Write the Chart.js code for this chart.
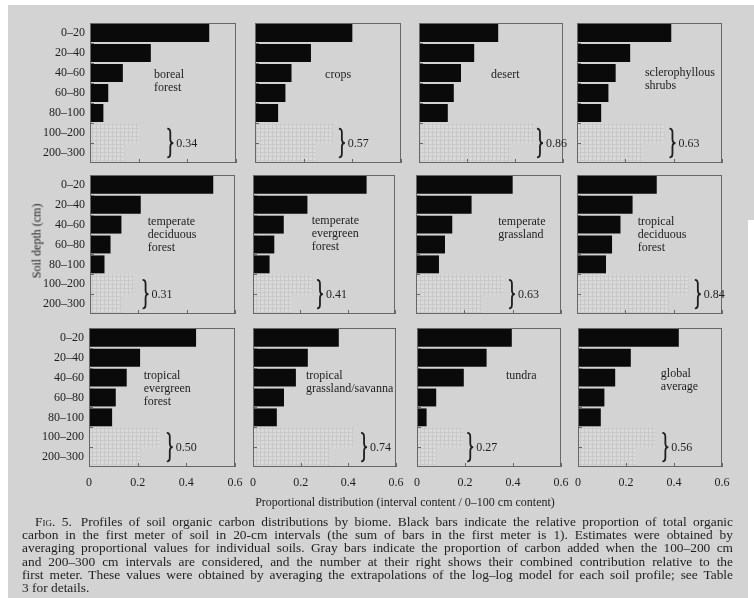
<!DOCTYPE html>
<html>
<head>
<meta charset="utf-8">
<script src="https://cdn.jsdelivr.net/npm/chart.js@4/dist/chart.umd.min.js"></script>
<style>
  html, body { margin: 0; padding: 0; background: #ffffff; }
  #stage { position: relative; width: 754px; height: 598px; overflow: hidden; background: #ffffff; }
  #sheet { position: absolute; left: 8px; top: 5px; width: 746px; height: 593px; background: #d3d3d3; }
  #notch { position: absolute; left: 748px; top: 220px; width: 6px; height: 378px; background: #ffffff; }
  canvas { position: absolute; left: 0; top: 0; }
  .txt { position: absolute; font-family: "Liberation Serif", "DejaVu Serif", serif; color: #1e1e1e; white-space: nowrap; }
  .cap { font-size: 13.4px; line-height: 13px; }
  .sc { font-variant: small-caps; }
</style>
</head>
<body>
<div id="stage">
  <div id="sheet"></div>
  <div id="notch"></div>
</div>
<script>
// Depth intervals (cm) shown on the vertical axis
const depthLabels = ['0\u201320', '20\u201340', '40\u201360', '60\u201380', '80\u2013100', '100\u2013200', '200\u2013300'];
const xTicks = [0, 0.2, 0.4, 0.6];

// Biome panels, left to right, top to bottom (each name split into its printed lines)
const biomeNames = [
  ['boreal', 'forest'], ['crops'], ['desert'], ['sclerophyllous', 'shrubs'],
  ['temperate', 'deciduous', 'forest'], ['temperate', 'evergreen', 'forest'], ['temperate', 'grassland'], ['tropical', 'deciduous', 'forest'],
  ['tropical', 'evergreen', 'forest'], ['tropical', 'grassland/savanna'], ['tundra'], ['global', 'average']
];

// Share of the first-meter carbon in each 20-cm interval (black bars)
const d0to20   = [0.49, 0.40, 0.33, 0.39, 0.51, 0.48, 0.40, 0.33, 0.44, 0.36, 0.395, 0.42];
const d20to40  = [0.25, 0.23, 0.23, 0.22, 0.21, 0.23, 0.23, 0.23, 0.21, 0.23, 0.29, 0.22];
const d40to60  = [0.135, 0.15, 0.175, 0.16, 0.13, 0.13, 0.15, 0.18, 0.155, 0.18, 0.195, 0.155];
const d60to80  = [0.075, 0.125, 0.145, 0.13, 0.085, 0.09, 0.12, 0.145, 0.11, 0.13, 0.08, 0.11];
const d80to100 = [0.055, 0.095, 0.12, 0.10, 0.06, 0.07, 0.095, 0.12, 0.095, 0.10, 0.04, 0.095];

// Extra carbon below one meter, relative to the first meter (gray bars)
const d100to200 = [0.20, 0.32, 0.48, 0.36, 0.18, 0.25, 0.36, 0.46, 0.29, 0.42, 0.19, 0.32];
const d200to300 = [0.14, 0.25, 0.38, 0.27, 0.13, 0.16, 0.27, 0.38, 0.21, 0.32, 0.08, 0.24];

// Plot-area rectangles of the 3 x 4 panel grid (page pixels)
const rowSpans = [[23, 163], [175, 314], [328, 467]];
const colSpans = [
  [[90, 236], [255, 401], [419, 563], [577, 722]],
  [[90, 235], [253, 395], [416, 561], [577, 722]],
  [[89, 235], [253, 396], [417, 561], [578, 722]]
];
// Where each biome name sits (x in data units, y in category index of the first line)
const namePos = [[0.263, 2.1], [0.288, 2.1], [0.30, 2.1], [0.281, 2.0], [0.239, 1.88], [0.248, 1.83],
                 [0.34, 1.88], [0.251, 1.85], [0.225, 1.93], [0.222, 1.93], [0.371, 1.9], [0.345, 1.8]];
// Horizontal position of the brace beside the gray bars (data units)
const braceX = [0.33, 0.357, 0.504, 0.395, 0.23, 0.283, 0.397, 0.5, 0.332, 0.466, 0.222, 0.364];

const FONT = '"Liberation Serif", "DejaVu Serif", serif';
const INK = '#1e1e1e';
const W = 754, H = 598, Y_AXIS_W = 50, X_AXIS_H = 24;
const stage = document.getElementById('stage');

function stipple(ctx) {
  const p = document.createElement('canvas');
  p.width = 4; p.height = 4;
  const g = p.getContext('2d');
  g.fillStyle = '#d9d9d9'; g.fillRect(0, 0, 4, 4);
  g.fillStyle = '#c9c9c9'; g.fillRect(0, 0, 4, 1); g.fillRect(0, 0, 1, 4);
  return ctx.createPattern(p, 'repeat');
}

// Box frame with short inward ticks
const framePlugin = {
  id: 'frame',
  afterDatasetsDraw(chart) {
    const { ctx, chartArea: a, scales: { x, y } } = chart;
    ctx.save();
    ctx.strokeStyle = '#676767';
    ctx.lineWidth = 1;
    ctx.strokeRect(Math.round(a.left) + 0.5, Math.round(a.top) + 0.5, Math.round(a.width) - 1, Math.round(a.height) - 1);
    ctx.beginPath();
    xTicks.forEach(v => {
      const px = Math.round(x.getPixelForValue(v)) + 0.5;
      ctx.moveTo(px, a.bottom); ctx.lineTo(px, a.bottom - 4);
    });
    for (let i = 0; i < depthLabels.length - 1; i++) {
      const py = Math.round((y.getPixelForValue(i) + y.getPixelForValue(i + 1)) / 2) + 0.5;
      ctx.moveTo(a.left, py); ctx.lineTo(a.left + 4, py);
    }
    ctx.stroke();
    ctx.restore();
  }
};

// Biome name, brace and the combined below-one-meter value
const notesPlugin = {
  id: 'notes',
  afterDraw(chart) {
    const k = chart.options.plugins.notes.panel;
    const { ctx, scales: { x, y } } = chart;
    ctx.save();
    ctx.fillStyle = INK;
    ctx.strokeStyle = INK;
    ctx.font = '12px ' + FONT;
    ctx.textAlign = 'left';
    ctx.textBaseline = 'middle';
    const nx = x.getPixelForValue(namePos[k][0]);
    const ny = y.getPixelForValue(namePos[k][1]);
    biomeNames[k].forEach((line, i) => ctx.fillText(line, nx, ny + i * 13));

    const bc = x.getPixelForValue(braceX[k]);
    const yTop = y.getPixelForValue(5.5 - 0.72);
    const yBot = y.getPixelForValue(5.5 + 0.72);
    const yMid = (yTop + yBot) / 2;
    const x0 = bc - 3, xm = bc, x1 = bc + 3;
    ctx.lineWidth = 1.8;
    ctx.beginPath();
    ctx.moveTo(x0, yTop);
    ctx.quadraticCurveTo(xm, yTop, xm, yTop + 4);
    ctx.lineTo(xm, yMid - 4);
    ctx.quadraticCurveTo(xm, yMid, x1, yMid);
    ctx.quadraticCurveTo(xm, yMid, xm, yMid + 4);
    ctx.lineTo(xm, yBot - 4);
    ctx.quadraticCurveTo(xm, yBot, x0, yBot);
    ctx.stroke();
    const total = d100to200[k] + d200to300[k];
    ctx.fillText(total.toFixed(2), bc + 6, yMid + 0.5);
    ctx.restore();
  }
};

for (let k = 0; k < 12; k++) {
  const row = Math.floor(k / 4), col = k % 4;
  const [top, bottom] = rowSpans[row];
  const [left, right] = colSpans[row][col];
  const canvas = document.createElement('canvas');
  canvas.width = W; canvas.height = H;
  stage.appendChild(canvas);
  const ctx = canvas.getContext('2d');

  const blackBars = [d0to20[k], d20to40[k], d40to60[k], d60to80[k], d80to100[k], null, null];
  const grayBars = [null, null, null, null, null, d100to200[k], d200to300[k]];

  new Chart(ctx, {
    type: 'bar',
    data: {
      labels: depthLabels,
      datasets: [
        { data: blackBars, backgroundColor: '#0a0a0a', borderWidth: 0, barPercentage: 0.9, categoryPercentage: 1, grouped: false },
        { data: grayBars, backgroundColor: stipple(ctx), borderWidth: 0, barPercentage: 1, categoryPercentage: 1, grouped: false }
      ]
    },
    options: {
      indexAxis: 'y',
      responsive: false,
      animation: false,
      devicePixelRatio: 1,
      events: [],
      layout: { padding: { left: left - Y_AXIS_W, top: top, right: W - right, bottom: H - bottom - X_AXIS_H } },
      plugins: { legend: { display: false }, tooltip: { enabled: false }, notes: { panel: k } },
      scales: {
        x: {
          type: 'linear', min: 0, max: 0.6,
          grid: { display: false, drawTicks: false },
          border: { display: false },
          ticks: { display: row === 2, stepSize: 0.2, padding: 9, maxRotation: 0, autoSkip: false,
                   color: INK, font: { family: FONT, size: 12 } },
          afterFit: s => { s.height = X_AXIS_H; }
        },
        y: {
          type: 'category', offset: true,
          grid: { display: false, drawTicks: false },
          border: { display: false },
          ticks: { display: col === 0, padding: 5, autoSkip: false, color: INK, font: { family: FONT, size: 12 } },
          afterFit: s => { s.width = Y_AXIS_W; }
        }
      }
    },
    plugins: [framePlugin, notesPlugin]
  });
}

// Shared axis titles
function addText(str, x, y, size, extra) {
  const d = document.createElement('div');
  d.className = 'txt';
  d.style.fontSize = size + 'px';
  d.style.left = x + 'px';
  d.style.top = y + 'px';
  d.style.transform = 'translate(-50%, -50%)' + (extra || '');
  d.textContent = str;
  stage.appendChild(d);
  return d;
}
addText('Soil depth (cm)', 37, 241, 12, ' rotate(-90deg)');
addText('Proportional distribution (interval content / 0\u2013100 cm content)', 405, 502, 12);

// Figure caption, justified line by line
const captionLines = [
  'Profiles of soil organic carbon distributions by biome. Black bars indicate the relative proportion of total organic',
  'carbon in the first meter of soil in 20-cm intervals (the sum of bars in the first meter is 1). Estimates were obtained by',
  'averaging proportional values for individual soils. Gray bars indicate the proportion of carbon added when the 100\u2013200 cm',
  'and 200\u2013300 cm intervals are considered, and the number at their right shows their combined contribution relative to the',
  'first meter. These values were obtained by averaging the extrapolations of the log\u2013log model for each soil profile; see Table',
  '3 for details.'
];
const capRight = 733, capTop = 521, capStep = 13.35;
captionLines.forEach((line, i) => {
  const d = document.createElement('div');
  d.className = 'txt cap';
  const x0 = i === 0 ? 35 : 22;
  d.style.left = x0 + 'px';
  d.style.top = (capTop + i * capStep - 6.5) + 'px';
  if (i === 0) {
    const lead = document.createElement('span');
    lead.className = 'sc';
    lead.textContent = 'Fig. 5.';
    lead.style.marginRight = '9px';
    d.appendChild(lead);
  }
  d.appendChild(document.createTextNode(line));
  stage.appendChild(d);
  if (i < captionLines.length - 1) {
    const natural = d.getBoundingClientRect().width;
    const gaps = (d.textContent.match(/ /g) || []).length;
    if (gaps > 0) d.style.wordSpacing = ((capRight - x0 - natural) / gaps) + 'px';
  }
});
</script>
</body>
</html>
